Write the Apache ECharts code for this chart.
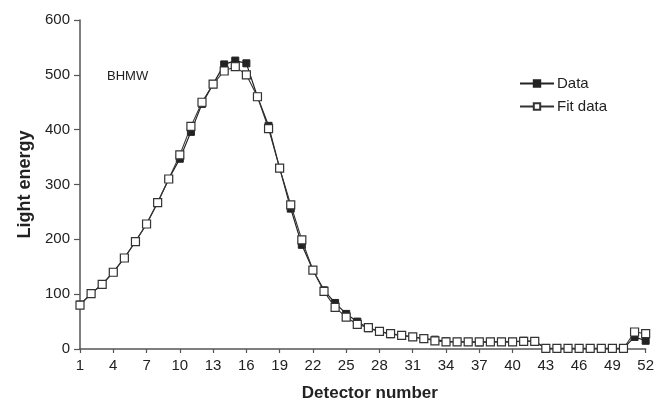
<!DOCTYPE html>
<html>
<head>
<meta charset="utf-8">
<script src="https://cdn.jsdelivr.net/npm/echarts@6/dist/echarts.min.js"></script>
<style>
html,body{margin:0;padding:0;background:#fff;}
#c{width:657px;height:407px;}
</style>
</head>
<body>
<div id="c"></div>
<script>
var categories = [];
for (var i = 1; i <= 52; i++) categories.push(String(i));

var dataValues = [81,101,118,140,166,196,228,267,310,347,396,447,483,519,526,521,460,407,330,256,190,144,107,84,64,50,38,32,27,25,22,19,17,14,13,13,12,13,13,13,15,14,1,1,1,1,1,1,1,1,22,15];
var fitValues  = [80,101,118,140,166,196,228,267,310,354,406,450,483,507,515,500,460,402,330,263,199,144,105,76,58,45,39,32,28,25,22,19,15,13,13,13,13,13,13,13,14,14,1,1,1,1,1,1,1,1,31,28];

var yTicks = [0,100,200,300,400,500,600];
var seriesNames = ['Data','Fit data'];

var chart = echarts.init(document.getElementById('c'), null, {renderer:'canvas'});
var font = 'Liberation Sans, Arial, sans-serif';
chart.setOption({
  animation:false,
  backgroundColor:'#fff',
  textStyle:{fontFamily:font},
  grid:{left:80,right:8,top:20,bottom:53,containLabel:false},
  legend:{
    orient:'vertical', left:514, top:71, itemGap:8,
    itemWidth:34, itemHeight:8,
    textStyle:{fontSize:15,color:'#222',fontFamily:font,padding:[0,0,0,-2]},
    data:[{name:seriesNames[0]},{name:seriesNames[1]}]
  },
  graphic:[{type:'text',left:107,top:70,style:{text:'BHMW',fontSize:13,fill:'#222',fontFamily:font}}],
  xAxis:{
    type:'category', data:categories, boundaryGap:false,
    name:'Detector number', nameLocation:'middle', nameGap:36,
    nameTextStyle:{fontSize:17,fontWeight:'bold',color:'#222',fontFamily:font,padding:[0,0,0,14]},
    axisLine:{lineStyle:{color:'#555',width:1.5}},
    axisTick:{show:true,interval:2,length:4,lineStyle:{color:'#555',width:1.2}},
    axisLabel:{interval:2,fontSize:15,color:'#222',margin:9,fontFamily:font},
    splitLine:{show:false}
  },
  yAxis:{
    type:'value', min:yTicks[0], max:yTicks[yTicks.length-1], interval:100,
    name:'Light energy', nameLocation:'middle', nameGap:46,
    nameTextStyle:{fontSize:18,fontWeight:'bold',color:'#222',fontFamily:font,padding:[0,0,0,0]},
    axisLine:{show:true,lineStyle:{color:'#555',width:1.5}},
    axisTick:{show:true,length:6,lineStyle:{color:'#555',width:1.2}},
    axisLabel:{fontSize:15,color:'#222',margin:10,fontFamily:font},
    splitLine:{show:false}
  },
  series:[
    {name:seriesNames[0],type:'line',data:dataValues,symbol:'rect',symbolSize:7,showAllSymbol:true,
     lineStyle:{color:'#222',width:1.2},itemStyle:{color:'#222',borderColor:'#222',borderWidth:1},z:2},
    {name:seriesNames[1],type:'line',data:fitValues,symbol:'rect',symbolSize:8,showAllSymbol:true,
     lineStyle:{color:'#333',width:1.1},itemStyle:{color:'#fff',borderColor:'#333',borderWidth:1.2},z:3}
  ]
});
</script>
</body>
</html>
